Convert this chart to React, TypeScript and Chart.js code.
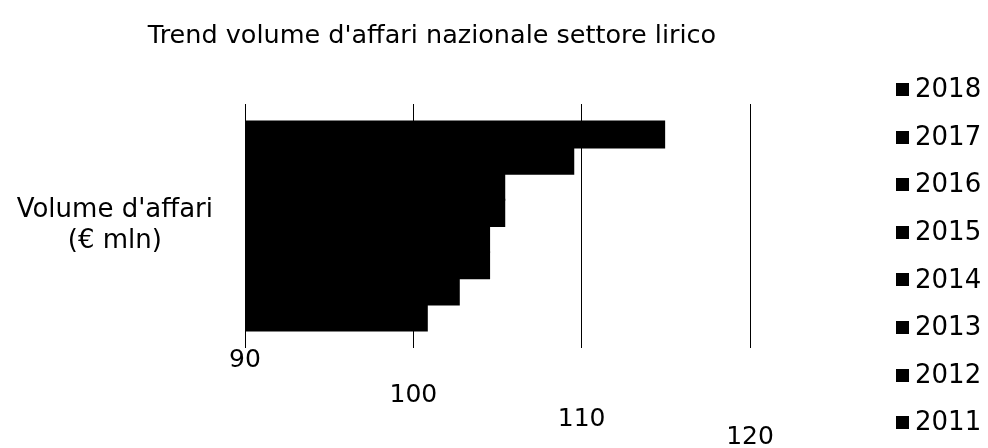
import React, { useEffect, useRef } from 'react';
import { Chart, registerables } from 'chart.js';

Chart.register(...registerables);

// ---- data ----
const chartTitle = "Trend volume d'affari nazionale settore lirico";
const categories = [["Volume d'affari", '(€ mln)']];
const years = ['2018', '2017', '2016', '2015', '2014', '2013', '2012', '2011'];
const values = [114.9, 109.5, 105.4, 105.4, 104.5, 104.5, 102.7, 100.8];
const xMin = 90;
const xMax = 120;
const xStep = 10;

// ---- style ----
const FONT = '"DejaVu Sans", Verdana, sans-serif';
const BAR_COLOR = '#000000';
const TICK_DROP = [0, 35, 59, 77]; // perspective stagger of value labels
const TICK_Y0 = 360;
const TITLE_POS = { x: 432, y: 36 };
const LEGEND_POS = { x: 896, y: 89.5, gap: 47.6, box: 13, textGap: 6 };

const decorPlugin = {
  id: 'decor',
  afterDraw(chart: any) {
    const ctx = chart.ctx as CanvasRenderingContext2D;
    const xs = chart.scales.x;
    ctx.save();
    ctx.fillStyle = '#000';
    ctx.textBaseline = 'middle';

    // title
    ctx.font = `25.5px ${FONT}`;
    ctx.textAlign = 'center';
    ctx.fillText(chartTitle, TITLE_POS.x, TITLE_POS.y);

    // staggered value-axis labels
    ctx.font = `25px ${FONT}`;
    ctx.textAlign = 'center';
    xs.ticks.forEach((t: any, i: number) => {
      ctx.fillText(String(t.value), xs.getPixelForValue(t.value), TICK_Y0 + (TICK_DROP[i] ?? 0));
    });

    // legend
    ctx.font = `26px ${FONT}`;
    ctx.textAlign = 'left';
    chart.data.datasets.forEach((ds: any, i: number) => {
      const cy = LEGEND_POS.y + i * LEGEND_POS.gap;
      ctx.fillStyle = ds.backgroundColor;
      ctx.fillRect(LEGEND_POS.x, Math.round(cy - LEGEND_POS.box / 2), LEGEND_POS.box, LEGEND_POS.box);
      ctx.fillStyle = '#000';
      ctx.fillText(ds.label, LEGEND_POS.x + LEGEND_POS.box + LEGEND_POS.textGap, cy + 1);
    });
    ctx.restore();
  },
};

export default function App() {
  const ref = useRef<HTMLCanvasElement | null>(null);

  useEffect(() => {
    if (!ref.current) return;
    const chart = new Chart(ref.current, {
      type: 'bar',
      data: {
        labels: categories as any,
        datasets: years.map((y, i) => ({
          label: y,
          data: [values[i]],
          backgroundColor: BAR_COLOR,
          borderWidth: 0,
          inflateAmount: 1,
          barPercentage: 1,
          categoryPercentage: 0.857,
        })),
      },
      options: {
        indexAxis: 'y',
        animation: false,
        responsive: true,
        maintainAspectRatio: false,
        layout: { padding: { left: 14, right: 238, top: 104, bottom: 100 } },
        plugins: {
          legend: { display: false },
          title: { display: false },
          tooltip: { enabled: false },
        },
        scales: {
          x: {
            type: 'linear',
            min: xMin,
            max: xMax,
            ticks: { stepSize: xStep, display: false },
            grid: { color: '#000', lineWidth: 1, drawTicks: false },
            border: { display: false },
          },
          y: {
            afterFit: (scale: any) => {
              scale.width = 231;
            },
            ticks: {
              color: '#000',
              padding: 24,
              crossAlign: 'center',
              font: { family: FONT, size: 26, lineHeight: 1.2 },
            },
            grid: { display: false },
            border: { display: false },
          },
        },
      },
      plugins: [decorPlugin],
    });
    return () => chart.destroy();
  }, []);

  return (
    <div
      style={{
        position: 'fixed',
        left: 0,
        top: 0,
        width: 988,
        height: 448,
        background: '#fff',
        overflow: 'hidden',
      }}
    >
      <canvas ref={ref} />
    </div>
  );
}
